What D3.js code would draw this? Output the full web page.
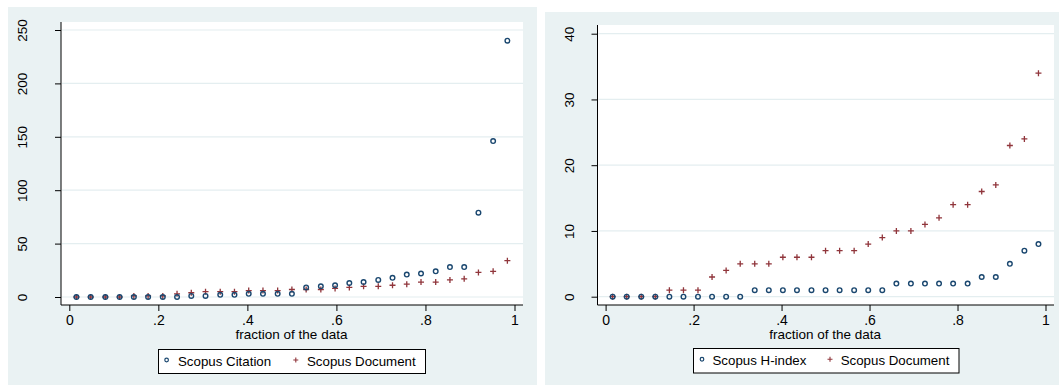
<!DOCTYPE html>
<html>
<head>
<meta charset="utf-8">
<script src="https://cdn.jsdelivr.net/npm/d3@7"></script>
<style>
  body { margin: 0; background: #ffffff; }
  svg { display: block; font-family: "Liberation Sans", Arial, sans-serif; }
</style>
</head>
<body>
<svg id="chart" width="1059" height="385"></svg>
<script>
// fraction of the data (31 quantile points)
const fractions = [0.016, 0.048, 0.081, 0.113, 0.145, 0.177, 0.210, 0.242, 0.274, 0.306,
  0.339, 0.371, 0.403, 0.435, 0.468, 0.500, 0.532, 0.565, 0.597, 0.629,
  0.661, 0.694, 0.726, 0.758, 0.790, 0.823, 0.855, 0.887, 0.919, 0.952, 0.984];

const scopusCitation = [0, 0, 0, 0, 0, 0, 0, 0, 1, 1, 2, 2, 3, 3, 3, 3, 9, 10, 11, 13,
  14, 16, 18, 21, 22, 24, 28, 28, 79, 146, 240];

const scopusDocument = [0, 0, 0, 0, 1, 1, 1, 3, 4, 5, 5, 5, 6, 6, 6, 7, 7, 7, 8, 9,
  10, 10, 11, 12, 14, 14, 16, 17, 23, 24, 34];

const scopusHindex = [0, 0, 0, 0, 0, 0, 0, 0, 0, 0, 1, 1, 1, 1, 1, 1, 1, 1, 1, 1,
  2, 2, 2, 2, 2, 2, 3, 3, 5, 7, 8];

const xTicks = [0, 0.2, 0.4, 0.6, 0.8, 1];
const leftYTicks = [0, 50, 100, 150, 200, 250];
const rightYTicks = [0, 10, 20, 30, 40];
const xTitle = "fraction of the data";

const NAVY = "#1a476f";
const MAROON = "#90353b";
const BG = "#eaf2f3";
const GRID = "#e4eef0";

const svg = d3.select("#chart");

const fmtX = (d) => (d === 0 ? "0" : d === 1 ? "1" : d3.format(".1f")(d).replace(/^0/, ""));

const addPanel = (props) => {
  const ctx = { ...props };

  // graph region
  svg.append("rect")
    .attr("x", ctx.bg[0]).attr("y", ctx.bg[1])
    .attr("width", ctx.bg[2] - ctx.bg[0]).attr("height", ctx.bg[3] - ctx.bg[1])
    .attr("fill", BG);

  // plot region
  svg.append("rect")
    .attr("x", ctx.plot[0]).attr("y", ctx.plot[1])
    .attr("width", ctx.plot[2] - ctx.plot[0]).attr("height", ctx.plot[3] - ctx.plot[1])
    .attr("fill", "#ffffff");

  const x = d3.scaleLinear().domain([0, 1]).range(ctx.xRange);
  const y = d3.scaleLinear().domain(ctx.yDomain).range(ctx.yRange);

  // grid lines
  svg.append("g")
    .selectAll("line")
    .data(ctx.yTicks)
    .join("line")
    .attr("x1", ctx.plot[0] + 1).attr("x2", ctx.plot[2])
    .attr("y1", (d) => y(d)).attr("y2", (d) => y(d))
    .attr("stroke", GRID).attr("stroke-width", 1.2);

  // y axis
  const yAxis = svg.append("g")
    .attr("transform", `translate(${ctx.plot[0]},0)`)
    .call(d3.axisLeft(y).tickValues(ctx.yTicks).tickSize(6).tickSizeOuter(0).tickFormat(d3.format("d")));
  yAxis.select(".domain").remove();
  yAxis.append("line")
    .attr("x1", 0).attr("x2", 0).attr("y1", ctx.plot[1]).attr("y2", ctx.plot[3])
    .attr("stroke", "#000").attr("stroke-width", 1);
  yAxis.selectAll(".tick line").attr("stroke", "#000");
  yAxis.selectAll(".tick text")
    .attr("x", null).attr("dy", null)
    .attr("transform", `translate(${ctx.yLabelX - ctx.plot[0]},0) rotate(-90)`)
    .attr("text-anchor", "middle")
    .attr("dominant-baseline", "central")
    .attr("font-size", 13.5)
    .attr("fill", "#000");

  // x axis
  const xAxis = svg.append("g")
    .attr("transform", `translate(0,${ctx.plot[3]})`)
    .call(d3.axisBottom(x).tickValues(xTicks).tickSize(6).tickSizeOuter(0).tickFormat(fmtX));
  xAxis.select(".domain").remove();
  xAxis.append("line")
    .attr("x1", ctx.plot[0]).attr("x2", ctx.plot[2]).attr("y1", 0).attr("y2", 0)
    .attr("stroke", "#000").attr("stroke-width", 1);
  xAxis.selectAll(".tick line").attr("stroke", "#000");
  xAxis.selectAll(".tick text")
    .attr("y", 10).attr("dy", "0.71em")
    .attr("font-size", 14)
    .attr("fill", "#000");

  svg.append("text")
    .attr("x", ctx.titleX).attr("y", 339)
    .attr("text-anchor", "middle")
    .attr("font-size", 13.5)
    .text(xTitle);

  // series
  const pts = (vals) => vals.map((v, i) => ({ fx: fractions[i], v }));

  svg.append("g")
    .selectAll("path")
    .data(pts(scopusDocument))
    .join("path")
    .attr("d", (d) => `M${x(d.fx) - 3},${y(d.v)}h6M${x(d.fx)},${y(d.v) - 3}v6`)
    .attr("stroke", MAROON).attr("stroke-width", 1.3).attr("fill", "none");

  svg.append("g")
    .selectAll("circle")
    .data(pts(ctx.circleSeries))
    .join("circle")
    .attr("cx", (d) => x(d.fx)).attr("cy", (d) => y(d.v))
    .attr("r", 2.3)
    .attr("fill", "none").attr("stroke", NAVY).attr("stroke-width", 1.4);

  // legend
  const lg = ctx.legend;
  svg.append("rect")
    .attr("x", lg.box[0] + 0.5).attr("y", lg.box[1] + 0.5)
    .attr("width", lg.box[2] - lg.box[0]).attr("height", lg.box[3] - lg.box[1])
    .attr("fill", "#fff").attr("stroke", "#000").attr("stroke-width", 1);
  const cy = (lg.box[1] + lg.box[3]) / 2;
  svg.append("circle")
    .attr("cx", lg.items[0]).attr("cy", cy - 1).attr("r", 1.8)
    .attr("fill", "none").attr("stroke", NAVY).attr("stroke-width", 1.2);
  svg.append("text")
    .attr("x", lg.items[1]).attr("y", cy).attr("dy", "0.36em")
    .attr("font-size", 13.3).text(lg.labels[0]);
  svg.append("path")
    .attr("d", `M${lg.items[2] - 2.5},${cy - 1}h5M${lg.items[2]},${cy - 3.5}v5`)
    .attr("stroke", MAROON).attr("stroke-width", 1.1);
  svg.append("text")
    .attr("x", lg.items[3]).attr("y", cy).attr("dy", "0.36em")
    .attr("font-size", 13.3).text(lg.labels[1]);
};

addPanel({
  bg: [8, 7, 537, 385],
  plot: [61, 22, 523, 305],
  xRange: [69.3, 514.5],
  yDomain: [0, 250],
  yRange: [297, 30],
  yTicks: leftYTicks,
  yLabelX: 22.5,
  titleX: 291.5,
  circleSeries: scopusCitation,
  legend: {
    box: [158, 349, 425, 373],
    items: [166.6, 178, 295.8, 307],
    labels: ["Scopus Citation", "Scopus Document"],
  },
});

addPanel({
  bg: [545, 12, 1059, 385],
  plot: [597.5, 25, 1054, 305],
  xRange: [605.6, 1045.5],
  yDomain: [0, 40],
  yRange: [296.7, 33.7],
  yTicks: rightYTicks,
  yLabelX: 569.5,
  titleX: 825.2,
  circleSeries: scopusHindex,
  legend: {
    box: [693, 348, 958.5, 372.5],
    items: [702, 712.5, 830, 840.7],
    labels: ["Scopus H-index", "Scopus Document"],
  },
});
</script>
</body>
</html>
